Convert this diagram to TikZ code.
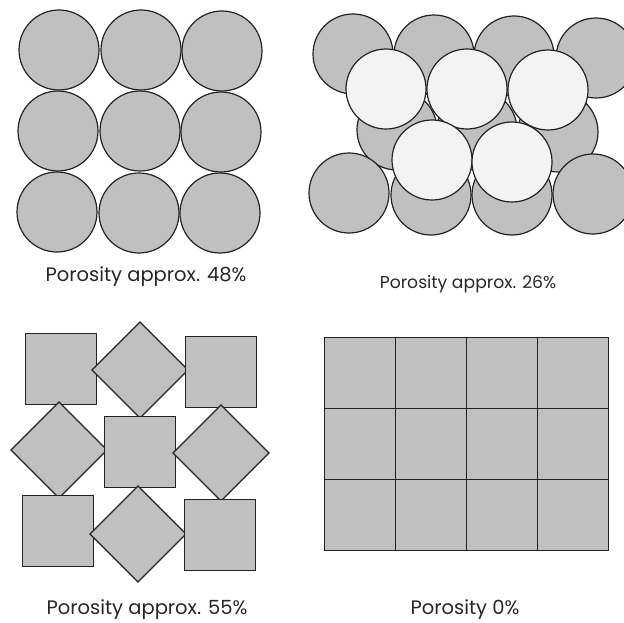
\documentclass[tikz,border=0pt]{standalone}
\usepackage{fontspec}
\setsansfont{Poppins}
\usepackage{tikz}
\usetikzlibrary{positioning}
\definecolor{grain}{RGB}{192,192,192}
\definecolor{pale}{RGB}{243,243,243}
\definecolor{rim}{RGB}{35,35,35}
\tikzset{
  grainc/.style={circle, draw=rim, fill=grain, line width=1.2pt, minimum size=80pt, inner sep=0pt},
  palec/.style={grainc, fill=pale},
  grains/.style={rectangle, draw=rim, fill=grain, line width=1.2pt, minimum size=71pt, inner sep=0pt},
  graind/.style={grains, minimum size=68pt, rotate=45},
  cell/.style={rectangle, draw=rim, fill=grain, line width=1.2pt, minimum size=71pt,
               inner sep=0pt, outer sep=0pt},
  caption/.style={font=\sffamily\fontsize{19.5}{22}\selectfont, text=black!85, anchor=base, inner sep=0pt}
}
\begin{document}
\begin{tikzpicture}[x=1pt, y=-1pt]
\useasboundingbox (0,0) rectangle (624,623);
% cubic packing of spheres
\node[grainc] (c11) at (59,50) {};
\node[grainc] (c12) at (141,50) {};
\node[grainc] (c13) at (222,51) {};
\node[grainc] (c21) at (58,131) {};
\node[grainc] (c22) at (140,131) {};
\node[grainc] (c23) at (221,132) {};
\node[grainc] (c31) at (57,212) {};
\node[grainc] (c32) at (139,213) {};
\node[grainc] (c33) at (220,213) {};
\node[caption] (l48) at (146,281) {Porosity approx. 48\%};
% rhombohedral packing of spheres
\node[grainc] (r11) at (353,54) {};
\node[grainc] (r12) at (434,55) {};
\node[grainc] (r13) at (514,56) {};
\node[grainc] (r14) at (596,58) {};
\node[grainc] (r21) at (397,130) {};
\node[grainc] (r22) at (477,130) {};
\node[grainc] (r23) at (558,132) {};
\node[grainc] (r31) at (349,193) {};
\node[grainc] (r32) at (431,195) {};
\node[grainc] (r33) at (512,195) {};
\node[grainc] (r34) at (593,194) {};
\node[palec] (w11) at (386,89) {};
\node[palec] (w12) at (467,89) {};
\node[palec] (w13) at (548,90) {};
\node[palec] (w21) at (432,160) {};
\node[palec] (w22) at (512,162) {};
\node[caption, font=\sffamily\fontsize{17.2}{20}\selectfont] (l26) at (468,288) {Porosity approx. 26\%};
% squares and diamonds
\node[grains] (s11) at (61,369) {};
\node[graind] (d12) at (140,370) {};
\node[grains] (s13) at (221,372) {};
\node[graind] (d21) at (59,450) {};
\node[grains] (s22) at (140,452) {};
\node[graind] (d23) at (221,453) {};
\node[grains] (s31) at (58,531) {};
\node[graind] (d32) at (138,534) {};
\node[grains] (s33) at (220,535) {};
\node[caption] (l55) at (147,614) {Porosity approx. 55\%};
% closed square grid
\node[cell] (g11) at (360,373) {};
\node[cell, right=0pt of g11] (g12) {};
\node[cell, right=0pt of g12] (g13) {};
\node[cell, right=0pt of g13] (g14) {};
\node[cell, below=0pt of g11] (g21) {};
\node[cell, right=0pt of g21] (g22) {};
\node[cell, right=0pt of g22] (g23) {};
\node[cell, right=0pt of g23] (g24) {};
\node[cell, below=0pt of g21] (g31) {};
\node[cell, right=0pt of g31] (g32) {};
\node[cell, right=0pt of g32] (g33) {};
\node[cell, right=0pt of g33] (g34) {};
\node[caption] (l0) at (465,614) {Porosity 0\%};
\end{tikzpicture}
\end{document}
